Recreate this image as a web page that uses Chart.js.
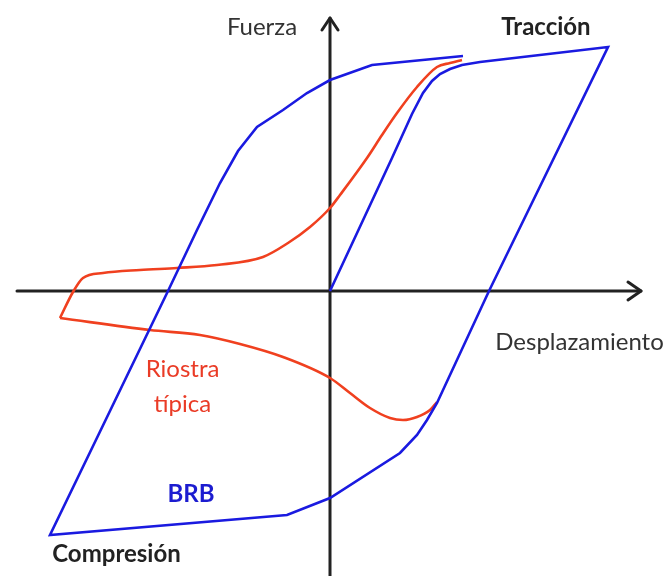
<!DOCTYPE html>
<html>
<head>
<meta charset="utf-8">
<script src="https://cdn.jsdelivr.net/npm/chart.js@4"></script>
<style>
  html, body { margin: 0; padding: 0; background: #fff; }
  canvas { display: block; }
</style>
</head>
<body>
<canvas id="c" width="672" height="576"></canvas>
<script>
// BRB hysteresis loop: loading from the origin, tension peak, unloading,
// compression peak and reloading (displacement, force in arbitrary units)
const brbDisp  = [0, 6.2, 8.2, 9.3, 10.2, 11.0, 12.0, 13.2, 15.0, 27.8,
                  15.9, 10.7, 9.7, 8.7, 7.0, 0, -4.3, -28.0,
                  -16.2, -13.3, -11.0, -9.2, -7.3, -4.7, -2.3, 0, 4.2, 13.3];
const brbForce = [0, 13.3, 17.7, 19.8, 21.0, 21.7, 22.2, 22.6, 22.9, 24.4,
                  0, -11.2, -12.9, -14.4, -16.2, -20.7, -22.4, -24.4,
                  0, 6.1, 10.8, 14.0, 16.4, 18.1, 19.8, 21.1, 22.6, 23.5];

// Typical brace: compression branch (buckling), left to right
const braceCompDisp  = [-27.0, -18.0, -13.0, -9.0, -4.7, 0, 2.0, 4.0, 6.0, 7.3, 8.7, 10.0, 10.7];
const braceCompForce = [-2.7, -3.9, -4.4, -5.3, -6.6, -8.7, -10.2, -11.7, -12.7, -12.9, -12.6, -11.9, -11.1];

// Typical brace: reloading branch towards tension
const braceTensDisp  = [-27.0, -25.7, -24.7, -22.7, -19.0, -15.3, -11.3, -6.7, -4.2, -2.0, 0,
                        1.0, 3.7, 5.2, 6.7, 8.7, 10.7, 12.0, 13.2];
const braceTensForce = [-2.7, -0.1, 1.3, 1.8, 2.1, 2.3, 2.6, 3.4, 4.8, 6.4, 8.3,
                        9.6, 13.3, 15.6, 17.8, 20.4, 22.4, 22.8, 23.1];

// Axis extents (data units)
const xAxisRange = [-31.3, 31.1];
const yAxisRange = [-28.5, 27.3];

// Text annotations: [text, x, y(baseline), colour, weight]
const notes = [
  ['Fuerza',         -6.8,  25.6, '#333333', 'normal'],
  ['Tracción',       21.6,  25.6, '#222222', 'bold'],
  ['Desplazamiento', 24.95, -5.9, '#333333', 'normal'],
  ['Riostra',       -14.75, -8.6, '#ea3b26', 'normal'],
  ['típica',        -14.75, -12.1, '#ea3b26', 'normal'],
  ['BRB',           -13.9, -21.1, '#1c1cd0', 'bold'],
  ['Compresión',    -21.35, -27.1, '#222222', 'bold']
];

const toPoints = (xs, ys) => xs.map((x, i) => ({ x, y: ys[i] }));

const BLUE = '#1a1ae0';
const RED = '#f0401f';

const axesPlugin = {
  id: 'crossAxes',
  beforeDatasetsDraw(chart) {
    const { ctx, scales: { x, y } } = chart;
    const x0 = x.getPixelForValue(0), y0 = y.getPixelForValue(0);
    const xl = x.getPixelForValue(xAxisRange[0]), xr = x.getPixelForValue(xAxisRange[1]);
    const yb = y.getPixelForValue(yAxisRange[0]), yt = y.getPixelForValue(yAxisRange[1]);
    ctx.save();
    ctx.strokeStyle = '#222';
    ctx.lineWidth = 3;
    ctx.lineCap = 'round';
    ctx.lineJoin = 'round';
    ctx.beginPath();
    ctx.moveTo(xl, y0); ctx.lineTo(xr, y0);
    ctx.moveTo(x0, yb); ctx.lineTo(x0, yt);
    ctx.stroke();
    // open arrow heads
    ctx.beginPath();
    ctx.moveTo(xr - 13, y0 - 9); ctx.lineTo(xr, y0); ctx.lineTo(xr - 13, y0 + 9);
    ctx.moveTo(x0 - 8, yt + 12); ctx.lineTo(x0, yt); ctx.lineTo(x0 + 8, yt + 12);
    ctx.stroke();
    ctx.restore();
  },
  afterDatasetsDraw(chart) {
    const { ctx, scales: { x, y } } = chart;
    ctx.save();
    ctx.textAlign = 'center';
    ctx.textBaseline = 'alphabetic';
    for (const [text, vx, vy, color, weight] of notes) {
      ctx.font = `${weight} 24px Lato, "Open Sans", sans-serif`;
      ctx.fillStyle = color;
      ctx.fillText(text, x.getPixelForValue(vx), y.getPixelForValue(vy));
    }
    ctx.restore();
  }
};

new Chart(document.getElementById('c'), {
  type: 'scatter',
  data: {
    datasets: [
      { label: 'BRB', data: toPoints(brbDisp, brbForce), showLine: true,
        borderColor: BLUE, borderWidth: 2.6, tension: 0, pointRadius: 0, order: 1 },
      { label: 'Riostra típica (compresión)', data: toPoints(braceCompDisp, braceCompForce), showLine: true,
        borderColor: RED, borderWidth: 2.6, cubicInterpolationMode: 'monotone', pointRadius: 0, order: 2 },
      { label: 'Riostra típica (tracción)', data: toPoints(braceTensDisp, braceTensForce), showLine: true,
        borderColor: RED, borderWidth: 2.6, cubicInterpolationMode: 'monotone', pointRadius: 0, order: 2 }
    ]
  },
  options: {
    responsive: false,
    animation: false,
    layout: { padding: 0 },
    plugins: { legend: { display: false }, tooltip: { enabled: false } },
    scales: {
      x: { type: 'linear', min: -33, max: 34.2, display: false },
      y: { type: 'linear', min: -28.5, max: 29.1, display: false }
    }
  },
  plugins: [axesPlugin]
});
</script>
</body>
</html>
